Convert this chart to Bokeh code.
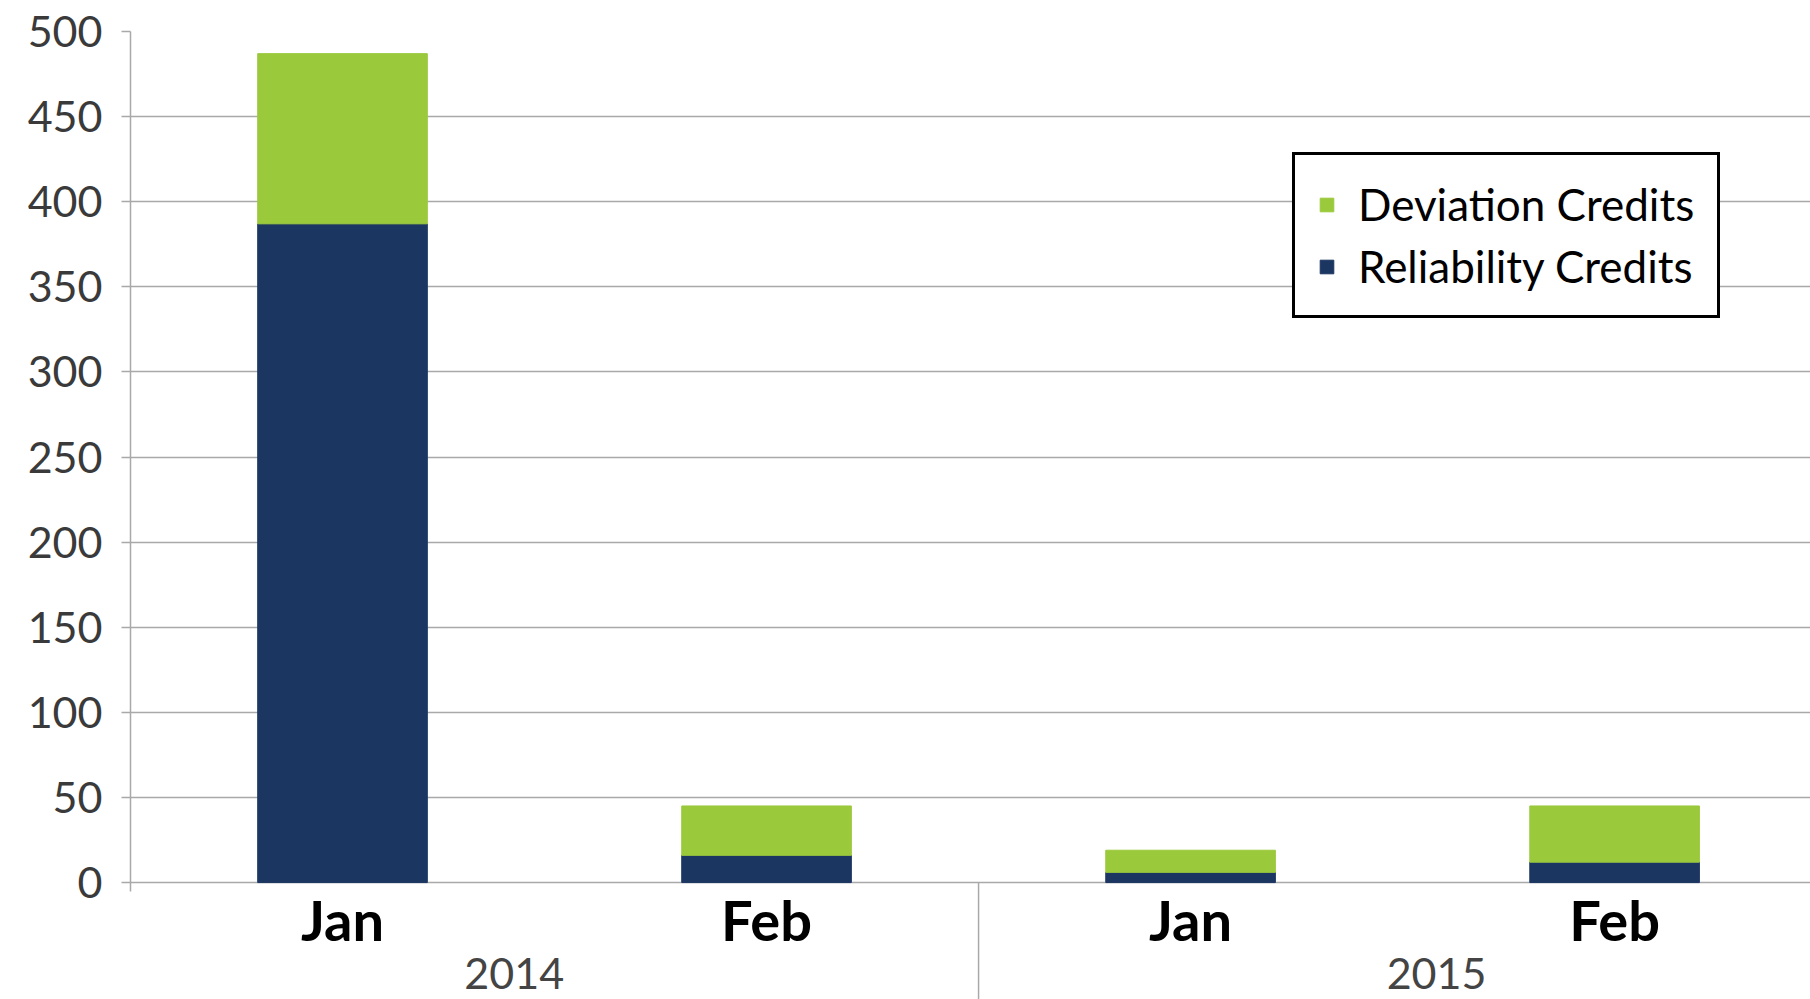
from bokeh.plotting import figure
from bokeh.models import (ColumnDataSource, Range1d, FixedTicker,
                          Legend, LegendItem)
from bokeh.core.properties import value
from bokeh.embed import file_html
from bokeh.resources import INLINE

# ---- data ----
years = ["2014", "2014", "2015", "2015"]
months = ["Jan", "Feb", "Jan", "Feb"]
reliability = [387, 16, 6, 12]
deviation = [100, 29, 13, 33]
y_ticks = [0, 50, 100, 150, 200, 250, 300, 350, 400, 450, 500]
series_names = ["Reliability Credits", "Deviation Credits"]

# ---- styles ----
NAVY = "#1c3662"
GREEN = "#9bc93c"
GRID = "#a9a9a9"
FONT = "Lato"

x = [i + 0.5 for i in range(len(months))]
source = ColumnDataSource(dict(x=x, reliability=reliability, deviation=deviation,
                               month=months))

# group info (derived from the categories)
group_names = []
group_members = {}
for xi, yr in zip(x, years):
    if yr not in group_members:
        group_names.append(yr)
        group_members[yr] = []
    group_members[yr].append(xi)
group_centers = [sum(group_members[g]) / len(group_members[g]) for g in group_names]
label_shift = [-0.095, 0.08]  # visual nudge of group labels
group_label_pos = [c + s for c, s in zip(group_centers, label_shift)]
boundaries = [min(group_members[g]) - 0.5 for g in group_names[1:]]

W, H = 1810, 999
Y_BOTTOM = -68.7   # room under the zero line for the category labels
p = figure(width=W, height=H, output_backend="svg", toolbar_location=None,
           x_range=Range1d(0, 3.962), y_range=Range1d(Y_BOTTOM, 500),
           x_axis_location=None,
           min_border_left=130, min_border_right=0, min_border_top=31,
           min_border_bottom=0, outline_line_color=None)
p.background_fill_color = "white"
p.border_fill_color = "white"

rs = p.vbar_stack(["reliability", "deviation"], x="x", width=0.4,
                  color=[NAVY, GREEN], source=source)

# y axis
ya = p.yaxis[0]
ya.ticker = FixedTicker(ticks=y_ticks)
ya.bounds = (-5, 500)
ya.major_label_text_font = FONT
ya.major_label_text_font_size = "43px"
ya.major_label_text_color = "#3a3a3a"
ya.major_tick_out = 9
ya.major_tick_in = 0
ya.minor_tick_out = 0
ya.minor_tick_in = 0
ya.major_tick_line_color = GRID
ya.major_tick_line_width = 1.5
ya.axis_line_color = GRID
ya.axis_line_width = 1.5
ya.major_label_standoff = 19

p.xgrid.visible = False
p.ygrid.grid_line_color = GRID
p.ygrid.grid_line_width = 1.5

# group separator below the zero line
p.segment(x0=boundaries, y0=[0] * len(boundaries), x1=boundaries,
          y1=[Y_BOTTOM] * len(boundaries), line_color=GRID, line_width=1.5)

# month labels
p.text(x="x", y=0, text="month", source=source,
       text_font=value(FONT), text_font_style="bold", text_font_size="56px",
       text_color="black", text_align="center", text_baseline="alphabetic",
       y_offset=37)

# year labels
p.text(x=group_label_pos, y=[0] * len(group_names), text=group_names,
       text_font=value(FONT), text_font_size="43px", text_color="#444444",
       text_align="center", text_baseline="alphabetic", y_offset=91)

legend = Legend(items=[LegendItem(label=series_names[1], renderers=[rs[1]]),
                       LegendItem(label=series_names[0], renderers=[rs[0]])],
                location=(1162, 681))
legend.border_line_color = "black"
legend.border_line_alpha = 1
legend.border_line_width = 3
legend.background_fill_color = "white"
legend.background_fill_alpha = 1
legend.label_text_font = FONT
legend.label_text_font_size = "44px"
legend.label_text_color = "black"
legend.glyph_width = 17
legend.glyph_height = 17
legend.label_standoff = 23
legend.padding = 23
legend.spacing = 10
legend.margin = 0
p.add_layout(legend, "center")

open("out.html", "w").write(file_html(p, INLINE))
